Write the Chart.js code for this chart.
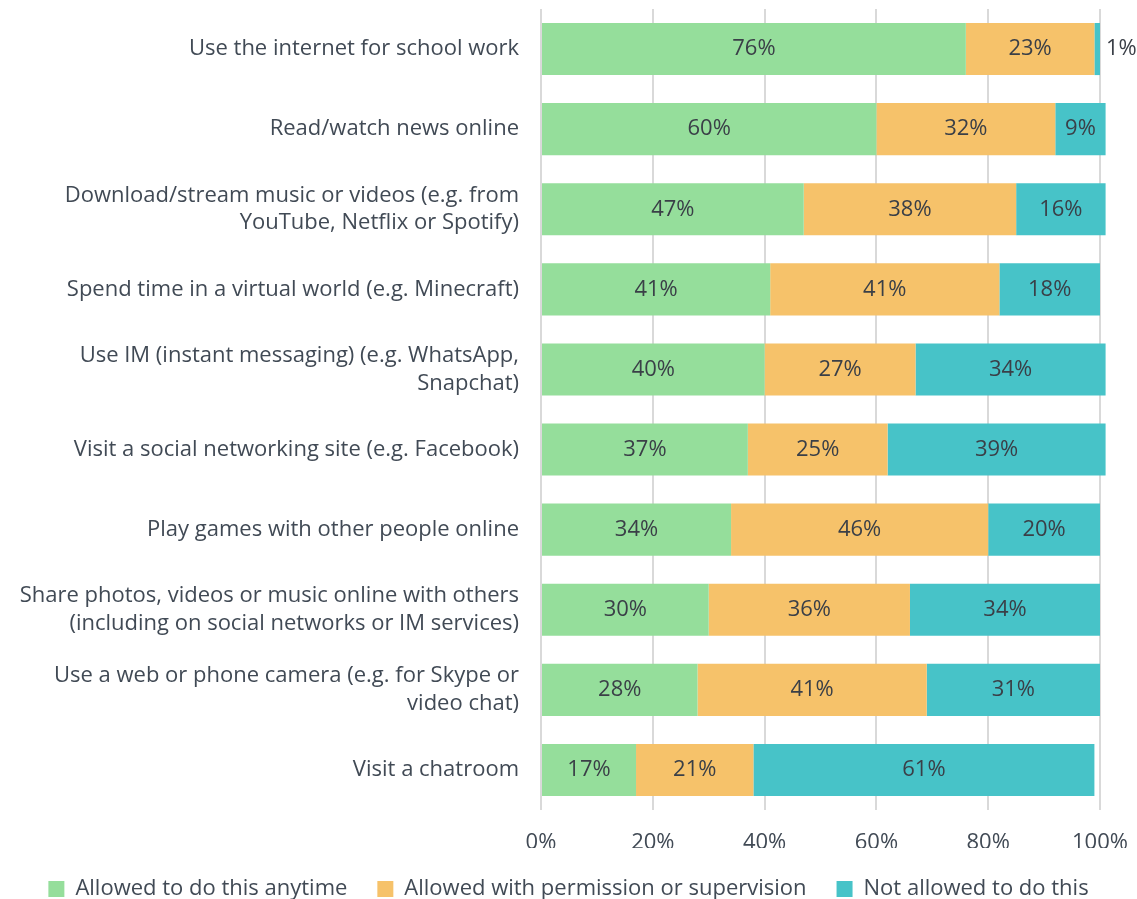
<!DOCTYPE html>
<html>
<head>
<meta charset="utf-8">
<script src="https://cdn.jsdelivr.net/npm/chart.js@4"></script>
<style>
  html, body { margin: 0; padding: 0; background: #fff; }
  #wrap { width: 1137px; height: 899px; position: relative; }
</style>
</head>
<body>
<div id="wrap"><canvas id="chart"></canvas></div>
<script>
const categories = [
  "Use the internet for school work",
  "Read/watch news online",
  ["Download/stream music or videos (e.g. from", "YouTube, Netflix or Spotify)"],
  "Spend time in a virtual world (e.g. Minecraft)",
  ["Use IM (instant messaging) (e.g. WhatsApp,", "Snapchat)"],
  "Visit a social networking site (e.g. Facebook)",
  "Play games with other people online",
  ["Share photos, videos or music online with others", "(including on social networks or IM services)"],
  ["Use a web or phone camera (e.g. for Skype or", "video chat)"],
  "Visit a chatroom",
];
const anytime = [76, 60, 47, 41, 40, 37, 34, 30, 28, 17];
const withPermission = [23, 32, 38, 41, 27, 25, 46, 36, 41, 21];
const notAllowed = [1, 9, 16, 18, 34, 39, 20, 34, 31, 61];
const seriesNames = [
  "Allowed to do this anytime",
  "Allowed with permission or supervision",
  "Not allowed to do this",
];
const xTicks = [0, 20, 40, 60, 80, 100];

const textColor = "#414a55";
const fontFamily = "'Open Sans', sans-serif";
const fontSize = 22;

// simple inline value labels (no datalabels plugin available)
const valueLabels = {
  id: "valueLabels",
  afterDatasetsDraw(chart) {
    const ctx = chart.ctx;
    ctx.save();
    ctx.font = fontSize + "px " + fontFamily;
    ctx.fillStyle = "#3a3f47";
    ctx.textBaseline = "middle";
    chart.data.datasets.forEach((ds, i) => {
      chart.getDatasetMeta(i).data.forEach((bar, j) => {
        const v = ds.data[j];
        const label = v + "%";
        if (v < 3) {
          ctx.textAlign = "left";
          ctx.fillText(label, bar.x + 6, bar.y);
        } else {
          ctx.textAlign = "center";
          ctx.fillText(label, (bar.x + bar.base) / 2, bar.y);
        }
      });
    });
    ctx.restore();
  },
};

new Chart(document.getElementById("chart"), {
  type: "bar",
  data: {
    labels: categories,
    datasets: [
      { label: seriesNames[0], data: anytime, backgroundColor: "#95de9b", clip: false },
      { label: seriesNames[1], data: withPermission, backgroundColor: "#f6c26a", clip: false },
      { label: seriesNames[2], data: notAllowed, backgroundColor: "#47c3c8", clip: false },
    ],
  },
  options: {
    indexAxis: "y",
    responsive: true,
    maintainAspectRatio: false,
    animation: false,
    barPercentage: 0.65,
    categoryPercentage: 1,
    layout: { padding: { top: 9, right: 0, left: 0, bottom: -11 } },
    scales: {
      x: {
        stacked: true,
        min: 0,
        max: 100,
        afterBuildTicks(scale) {
          scale.ticks = xTicks.map((v) => ({ value: v }));
        },
        afterFit(scale) {
          scale.height = 38;
          scale.paddingLeft = 0;
          scale.paddingRight = 37;
        },
        grid: { color: "#d9d9d9", lineWidth: 2, drawTicks: false },
        border: { display: false },
        ticks: {
          padding: 20,
          color: textColor,
          font: { size: fontSize, family: fontFamily },
          callback: (v) => v + "%",
        },
      },
      y: {
        stacked: true,
        afterFit(scale) {
          scale.width = 541;
          scale.paddingTop = 0;
          scale.paddingBottom = 0;
        },
        grid: { display: false },
        border: { display: false },
        ticks: {
          padding: 14,
          color: textColor,
          font: { size: fontSize, family: fontFamily, lineHeight: 1.27 },
        },
      },
    },
    plugins: {
      legend: {
        position: "bottom",
        labels: {
          boxWidth: 16,
          boxHeight: 16,
          padding: 30,
          color: textColor,
          font: { size: fontSize, family: fontFamily },
        },
      },
      tooltip: { enabled: false },
    },
  },
  plugins: [valueLabels],
});
</script>
</body>
</html>
